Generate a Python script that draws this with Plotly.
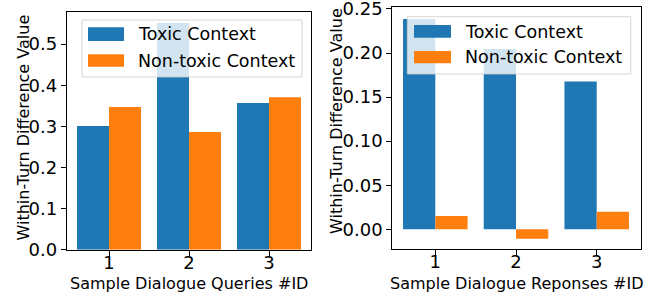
import plotly.graph_objects as go

W, H = 667, 297

ids = [1, 2, 3]
series_names = ["Toxic Context", "Non-toxic Context"]
colors = ["#1f77b4", "#ff7f0e"]

queries_toxic = [0.301, 0.551, 0.357]
queries_nontoxic = [0.347, 0.286, 0.371]

responses_toxic = [0.2386, 0.2045, 0.1678]
responses_nontoxic = [0.0151, -0.0106, 0.0200]

left_yticks = [0.0, 0.1, 0.2, 0.3, 0.4, 0.5]
left_yticklabels = ["0.0", "0.1", "0.2", "0.3", "0.4", "0.5"]
right_yticks = [0.0, 0.05, 0.10, 0.15, 0.20, 0.25]
right_yticklabels = ["0.00", "0.05", "0.10", "0.15", "0.20", "0.25"]

y_title = "Within-Turn Difference Value"
x_title_left = "Sample Dialogue Queries #ID"
x_title_right = "Sample Dialogue Reponses #ID"

FONT = "DejaVu Sans"


def px(x):
    return x / W


def py(y):
    return 1 - y / H


fig = go.Figure()
fig.add_trace(go.Bar(x=ids, y=queries_toxic, name=series_names[0], marker_color=colors[0],
                     marker_line_width=0, xaxis="x", yaxis="y", offsetgroup="a"))
fig.add_trace(go.Bar(x=ids, y=queries_nontoxic, name=series_names[1], marker_color=colors[1],
                     marker_line_width=0, xaxis="x", yaxis="y", offsetgroup="b"))
fig.add_trace(go.Bar(x=ids, y=responses_toxic, name=series_names[0], marker_color=colors[0],
                     marker_line_width=0, xaxis="x2", yaxis="y2", offsetgroup="a"))
fig.add_trace(go.Bar(x=ids, y=responses_nontoxic, name=series_names[1], marker_color=colors[1],
                     marker_line_width=0, xaxis="x2", yaxis="y2", offsetgroup="b"))

axis_common = dict(showline=True, linecolor="black", linewidth=1, mirror=True,
                   ticks="outside", ticklen=5, tickwidth=1, tickcolor="black",
                   showgrid=False, zeroline=False, automargin=False,
                   ticklabeloverflow="allow",
                   tickfont=dict(family=FONT, size=18, color="black"))

fig.update_layout(
    template="none",
    width=W, height=H,
    margin=dict(l=0, r=0, t=0, b=0, pad=0),
    paper_bgcolor="white", plot_bgcolor="white",
    barmode="group", bargap=0.2, bargroupgap=0,
    showlegend=False,
    font=dict(family=FONT, color="black"),
    xaxis=dict(domain=[px(66.7), px(311)], range=[0.471, 3.525], tickvals=ids,
               ticklabelstandoff=-8, anchor="y", **axis_common),
    yaxis=dict(domain=[py(249.7), py(12)], range=[0, 0.578],
               tickvals=left_yticks, ticktext=left_yticklabels,
               anchor="x", **axis_common),
    xaxis2=dict(domain=[px(392.3), px(641)], range=[0.467, 3.549], tickvals=ids,
                ticklabelstandoff=-8, anchor="y2", **axis_common),
    yaxis2=dict(domain=[py(248.7), py(6.7)], range=[-0.022, 0.2526],
                tickvals=right_yticks, ticktext=right_yticklabels,
                anchor="x2", **axis_common),
)

shapes = []
annotations = []


def add_legend(box, sw_x, sw_rows, text_x, text_ys):
    x0, y0, x1, y1 = box
    shapes.append(dict(type="rect", xref="paper", yref="paper", layer="above",
                       x0=px(x0), x1=px(x1), y0=py(y1), y1=py(y0),
                       fillcolor="rgba(255,255,255,0.8)",
                       line=dict(color="rgba(204,204,204,0.8)", width=1)))
    for (ya, yb), c in zip(sw_rows, colors):
        shapes.append(dict(type="rect", xref="paper", yref="paper", layer="above",
                           x0=px(sw_x[0]), x1=px(sw_x[1]), y0=py(yb), y1=py(ya),
                           fillcolor=c, line=dict(width=0)))
    for ty, name in zip(text_ys, series_names):
        annotations.append(dict(text=name, xref="paper", yref="paper", x=px(text_x), y=py(ty),
                                xanchor="left", yanchor="middle", showarrow=False,
                                font=dict(family=FONT, size=17.5, color="black")))


add_legend((82, 20, 302, 77), (88, 124), [(27.3, 41), (54.3, 66.7)], 136, [34.5, 60.5])
add_legend((407.3, 16.7, 630.7, 74), (414, 451), [(25, 37.7), (51, 63.3)], 463, [31.5, 57.5])

# axis titles
annotations.append(dict(text=y_title, xref="paper", yref="paper", x=px(22.5), y=py(128),
                        textangle=-90, showarrow=False, xanchor="center", yanchor="middle",
                        font=dict(family=FONT, size=16, color="black")))
annotations.append(dict(text=y_title, xref="paper", yref="paper", x=px(336), y=py(121),
                        textangle=-90, showarrow=False, xanchor="center", yanchor="middle",
                        font=dict(family=FONT, size=16, color="black")))
annotations.append(dict(text=x_title_left, xref="paper", yref="paper", x=px(189), y=py(283),
                        showarrow=False, xanchor="center", yanchor="middle",
                        font=dict(family=FONT, size=16, color="black")))
annotations.append(dict(text=x_title_right, xref="paper", yref="paper", x=px(516), y=py(283),
                        showarrow=False, xanchor="center", yanchor="middle",
                        font=dict(family=FONT, size=16, color="black")))

fig.update_layout(shapes=shapes, annotations=annotations)
fig.write_html("out.html", config={"displayModeBar": False},
               post_script="document.body.style.margin='0';")
